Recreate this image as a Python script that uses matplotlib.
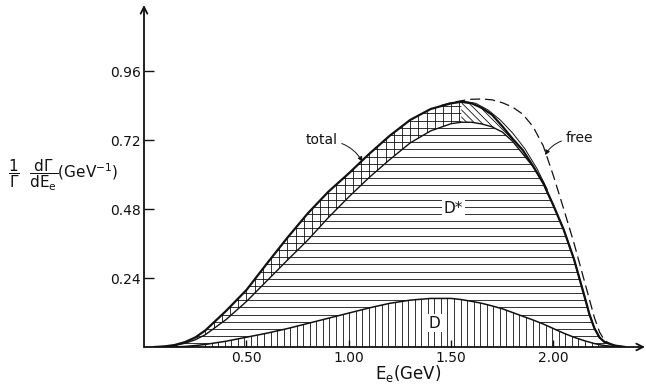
import numpy as np
import matplotlib
matplotlib.use("Agg")
import matplotlib.pyplot as plt
from matplotlib.path import Path
from matplotlib.patches import PathPatch
from matplotlib.collections import LineCollection

# ---------------- data ----------------
E = [0.05, 0.10, 0.15, 0.20, 0.25, 0.30, 0.40, 0.50, 0.60, 0.70, 0.80, 0.90,
     1.00, 1.10, 1.20, 1.30, 1.40, 1.50, 1.55, 1.60, 1.65, 1.70, 1.75, 1.80,
     1.85, 1.90, 1.95, 2.00, 2.05, 2.10, 2.15, 2.175, 2.20, 2.225, 2.25, 2.30,
     2.35]
total = [0.000, 0.002, 0.007, 0.017, 0.033, 0.058, 0.125, 0.198, 0.290, 0.380,
         0.465, 0.540, 0.604, 0.672, 0.735, 0.790, 0.828, 0.848, 0.853, 0.848,
         0.832, 0.808, 0.768, 0.725, 0.685, 0.630, 0.570, 0.492, 0.408, 0.306,
         0.180, 0.115, 0.065, 0.033, 0.017, 0.005, 0.000]
d_plus_dstar = [0.000, 0.002, 0.005, 0.013, 0.025, 0.043, 0.095, 0.158, 0.230,
                0.302, 0.372, 0.450, 0.522, 0.590, 0.652, 0.710, 0.752, 0.777,
                0.782, 0.782, 0.776, 0.766, 0.748, 0.716, 0.672, 0.628, 0.570,
                0.492, 0.408, 0.306, 0.180, 0.115, 0.065, 0.033, 0.017, 0.005,
                0.000]
d_only = [0.000, 0.000, 0.000, 0.002, 0.005, 0.009, 0.020, 0.034, 0.048, 0.064,
          0.082, 0.100, 0.118, 0.136, 0.152, 0.163, 0.169, 0.169, 0.165, 0.159,
          0.152, 0.143, 0.133, 0.120, 0.107, 0.094, 0.080, 0.064, 0.048, 0.034,
          0.022, 0.017, 0.012, 0.008, 0.005, 0.001, 0.000]
free_E = [1.45, 1.50, 1.55, 1.60, 1.65, 1.70, 1.75, 1.80, 1.85, 1.90, 1.95,
          2.00, 2.05, 2.10, 2.15, 2.20, 2.225, 2.25, 2.30]
free = [0.840, 0.850, 0.857, 0.862, 0.863, 0.860, 0.850, 0.835, 0.810, 0.767,
        0.700, 0.595, 0.480, 0.362, 0.232, 0.102, 0.052, 0.022, 0.002]
thin_E = [1.56, 1.62, 1.68, 1.74, 1.80, 1.86, 1.92, 1.97]
thin = [0.855, 0.848, 0.825, 0.790, 0.745, 0.690, 0.620, 0.548]

xticks = [0.50, 1.00, 1.50, 2.00]
xtick_labels = ["0.50", "1.00", "1.50", "2.00"]
yticks = [0.24, 0.48, 0.72, 0.96]
ytick_labels = ["0.24", "0.48", "0.72", "0.96"]

INK = "#111111"

fig = plt.figure(figsize=(6.46, 3.87), dpi=100)
ax = fig.add_axes([144 / 646, 40 / 387, 501 / 646, 342 / 387])
XMAX, YMAX = 2.447, 1.19
ax.set_xlim(0, XMAX)
ax.set_ylim(0, YMAX)
for s in ax.spines.values():
    s.set_visible(False)


def clip_patch(verts):
    p = PathPatch(Path(verts), transform=ax.transData,
                  facecolor="none", edgecolor="none")
    ax.add_patch(p)
    return p


k = E.index(1.55)
d_patch = clip_patch(list(zip(E, d_only)) + [(E[-1], 0), (E[0], 0)])
ds_patch = clip_patch(list(zip(E, d_plus_dstar)) + list(zip(E[::-1], d_only[::-1])))
bandL = clip_patch(list(zip(E[:k + 1], total[:k + 1])) +
                   list(zip(E[k::-1], d_plus_dstar[k::-1])))
bandR = clip_patch(list(zip(E[k:], total[k:])) +
                   list(zip(E[:k - 1:-1], d_plus_dstar[:k - 1:-1])))

hl = 0.6
# horizontal hatch (D* region and left part of band)
hy = np.arange(0.0125, 0.9, 0.025)
c1 = ax.hlines(hy, 0, XMAX, colors=INK, lw=hl)
c1.set_clip_path(ds_patch)
c2 = ax.hlines(hy, 0, XMAX, colors=INK, lw=hl)
c2.set_clip_path(bandL)
# vertical hatch (D region)
vx = np.arange(0.17, 2.35, 0.032)
c3 = ax.vlines(vx, 0, 0.3, colors=INK, lw=hl)
c3.set_clip_path(d_patch)
# vertical lines in band (cross hatch)
bx = np.arange(0.1, 1.6, 0.04)
c4 = ax.vlines(bx, 0, 1.0, colors=INK, lw=hl)
c4.set_clip_path(bandL)
# diagonal hatch near the peak
slope = 204.7 / 287.5
segs = [[(c, 0.95), (c + 1.0, 0.95 - slope)] for c in np.arange(1.2, 2.3, 0.035)]
lc = LineCollection(segs, colors=INK, lw=hl)
ax.add_collection(lc)
lc.set_clip_path(bandR)

# curves
ax.plot(E, total, color=INK, lw=1.6, solid_capstyle="round", solid_joinstyle="round")
ax.plot(E, d_plus_dstar, color=INK, lw=1.0)
ax.plot(E, d_only, color=INK, lw=1.1)
ax.plot(free_E, free, color=INK, lw=0.9, linestyle=(0, (8, 4)))
ax.plot(thin_E, thin, color=INK, lw=0.7)

# axes with arrows
arrow_kw = dict(arrowstyle="->", lw=1.3, color=INK, shrinkA=0, shrinkB=0,
                mutation_scale=12)
ax.annotate("", xy=(0, YMAX), xytext=(0, 0), arrowprops=arrow_kw,
            annotation_clip=False)
ax.annotate("", xy=(XMAX, 0), xytext=(0, 0), arrowprops=arrow_kw,
            annotation_clip=False)

ax.set_xticks(xticks)
ax.set_xticklabels(xtick_labels)
ax.set_yticks(yticks)
ax.set_yticklabels(ytick_labels)
ax.tick_params(direction="in", length=7, width=1.0, colors=INK,
               labelsize=10, pad=2)
ax.tick_params(axis="x", length=5, pad=3)

# region labels
bb = dict(boxstyle="square,pad=0.12", facecolor="white", edgecolor="none")
ax.text(1.51, 0.483, "D*", fontsize=11, ha="center", va="center", color=INK, bbox=bb)
ax.text(1.417, 0.083, "D", fontsize=11, ha="center", va="center", color=INK, bbox=bb)

# leader annotations
lead = dict(arrowstyle="-|>", lw=0.7, color=INK, shrinkA=1, shrinkB=0,
            mutation_scale=7)
ax.annotate("total", xy=(1.067, 0.645), xytext=(0.868, 0.72), fontsize=10,
            ha="center", va="center", color=INK,
            arrowprops=dict(connectionstyle="angle3,angleA=0,angleB=120", **lead))
ax.annotate("free", xy=(1.959, 0.668), xytext=(2.126, 0.727), fontsize=10,
            ha="center", va="center", color=INK,
            arrowprops=dict(connectionstyle="angle3,angleA=0,angleB=60", **lead))

# axis labels
fig.text(408 / 646, 1 - 373 / 387, r"E$_{\mathrm{e}}$(GeV)", fontsize=12,
         ha="center", va="center", color=INK)
fig.text(8 / 646, 1 - 175 / 387,
         r"$\dfrac{\mathrm{1}}{\Gamma}\ \ \dfrac{\mathrm{d}\Gamma}{\mathrm{dE}_{\mathrm{e}}}$(GeV$^{-1}$)",
         fontsize=11, ha="left", va="center", color=INK)

fig.savefig("out.png", dpi=100, facecolor="white")
